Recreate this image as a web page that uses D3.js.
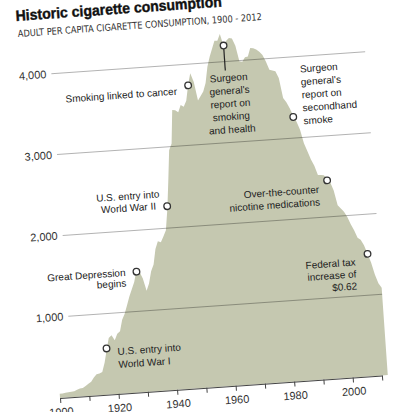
<!DOCTYPE html>
<html>
<head>
<meta charset="utf-8">
<script src="https://cdn.jsdelivr.net/npm/d3@7"></script>
<style>
  body { margin: 0; background: #fff; }
  svg { display: block; font-family: "Liberation Sans", Arial, sans-serif; }
</style>
</head>
<body>
<div id="chart"></div>
<script>
// adult per capita cigarette consumption, one value per year from 1900
var startYear = 1900;
var consumption = [
    54, 53, 60, 64, 66, 70, 86, 99, 105, 125,
    151, 173, 223, 260, 267, 285, 395, 551, 697, 727,
    665, 742, 770, 911, 982, 1085, 1191, 1279, 1366, 1504,
    1485, 1399, 1245, 1334, 1483, 1564, 1754, 1847, 1830, 1900,
    1976, 2236, 2585, 2956, 3039, 3449, 3446, 3416, 3505, 3480,
    3552, 3744, 3886, 3778, 3546, 3597, 3650, 3755, 3953, 4073,
    4171, 4266, 4265, 4345, 4194, 4258, 4287, 4280, 4186, 3993,
    3985, 4037, 4043, 4148, 4141, 4123, 4092, 4051, 3967, 3861,
    3851, 3840, 3753, 3502, 3446, 3370, 3274, 3197, 3096, 2926,
    2826, 2720, 2640, 2524, 2521, 2515, 2476, 2425, 2320, 2136,
    2092, 2048, 1982, 1890, 1814, 1716, 1691, 1619, 1512, 1400,
    1250, 1140, 1080
];

var gridValues = [1000, 2000, 3000, 4000];
var decadeTicks = [1900, 1910, 1920, 1930, 1940, 1950, 1960, 1970, 1980, 1990, 2000, 2010];

var eventYears = [1917, 1929, 1941, 1951, 1964, 1986, 1996, 2008];
var eventValues = [570, 1490, 2270, 3740, 4200, 3260, 2450, 1510];
var eventLabels = [
    ['U.S. entry into', 'World War I'],
    ['Great Depression', 'begins'],
    ['U.S. entry into', 'World War II'],
    ['Smoking linked to cancer'],
    ['Surgeon', "general's", 'report on', 'smoking', 'and health'],
    ['Surgeon', "general's", 'report on', 'secondhand', 'smoke'],
    ['Over-the-counter', 'nicotine medications'],
    ['Federal tax', 'increase of', '$0.62']
];

// where each note sits next to its marker
var labelLayout = [
    {anchor: 'start',  dx: 10.8,  dy: 3.8,   lh: 13},
    {anchor: 'end',    dx: -11,   dy: 0,     lh: 10.5},
    {anchor: 'middle', dx: -38.6, dy: -12.8, lh: 11.8},
    {anchor: 'end',    dx: -11.5, dy: 5,     lh: 12},
    {anchor: 'middle', dx: 2.8,   dy: 32.3,  lh: 13, stem: 25},
    {anchor: 'start',  dx: 10,    dy: -47.5, lh: 13},
    {anchor: 'end',    dx: -8.6,  dy: 8.4,   lh: 12.5},
    {anchor: 'end',    dx: -12.6, dy: 7.2,   lh: 12}
];

var width = 415, height = 412;

var svg = d3.select('#chart').append('svg')
    .attr('width', width).attr('height', height);

// the whole graphic is slightly tilted
var g = svg.append('g').attr('transform', 'translate(60,398) rotate(-4)');

var x = d3.scaleLinear().domain([1900, 2010]).range([0, 322.7]);
var y = d3.scaleLinear().domain([0, 4000]).range([0, -324]);

var series = consumption.map(function(v, i){ return {year: startYear + i, value: v}; });

g.append('path').datum(series)
    .attr('fill', '#c5c8b0')
    .attr('d', d3.area()
        .x(function(d){ return x(d.year); })
        .y0(y(0))
        .y1(function(d){ return y(d.value); }));

// gridlines over the area
var gridStart = 14, gridEnd = x(2012);
g.selectAll('line.grid').data(gridValues).enter().append('line')
    .attr('class', 'grid')
    .attr('x1', gridStart).attr('x2', gridEnd)
    .attr('y1', function(d){ return y(d); })
    .attr('y2', function(d){ return y(d); })
    .attr('stroke', 'rgba(0,0,0,0.3)')
    .attr('stroke-width', 1);

g.selectAll('text.ylab').data(gridValues).enter().append('text')
    .attr('class', 'ylab')
    .attr('x', 9)
    .attr('y', function(d){ return y(d); })
    .attr('dy', '0.35em')
    .attr('text-anchor', 'end')
    .attr('font-size', 11)
    .attr('fill', '#333')
    .text(d3.format(','));

var axis = g.append('g').call(d3.axisBottom(x)
    .tickValues(decadeTicks)
    .tickSize(5)
    .tickSizeOuter(0)
    .tickPadding(5)
    .tickFormat(function(d){ return d % 20 ? '' : d; }));
axis.select('.domain').attr('stroke', '#444');
axis.selectAll('.tick line').attr('stroke', '#444');
axis.selectAll('.tick text')
    .attr('font-size', 11)
    .attr('font-family', '"Liberation Sans", Arial, sans-serif')
    .attr('fill', '#333');

// notes
eventYears.forEach(function(yr, i){
    var cx = x(yr), cy = y(eventValues[i]), lay = labelLayout[i];
    if(lay.stem){
        g.append('line')
            .attr('x1', cx).attr('x2', cx)
            .attr('y1', cy).attr('y2', cy + lay.stem)
            .attr('stroke', '#222').attr('stroke-width', 1.2);
    }
    var t = g.append('text')
        .attr('text-anchor', lay.anchor)
        .attr('font-size', 10)
        .attr('fill', '#222');
    eventLabels[i].forEach(function(line, j){
        t.append('tspan')
            .attr('x', cx + lay.dx)
            .attr('y', cy + lay.dy + j * lay.lh)
            .attr('dy', '0.35em')
            .text(line);
    });
    g.append('circle')
        .attr('cx', cx).attr('cy', cy).attr('r', 3.3)
        .attr('fill', '#fff')
        .attr('stroke', '#333').attr('stroke-width', 1.3);
});

g.append('text')
    .attr('x', -17.6).attr('y', -379.2)
    .attr('font-size', 15).attr('font-weight', 'bold')
    .attr('fill', '#111').attr('stroke', '#111').attr('stroke-width', 0.4)
    .attr('textLength', 206.5).attr('lengthAdjust', 'spacingAndGlyphs')
    .text('Historic cigarette consumption');

g.append('text')
    .attr('x', -16.7).attr('y', -363)
    .attr('font-size', 9.5)
    .attr('font-family', '"Liberation Sans Narrow", "DejaVu Sans Condensed", sans-serif')
    .attr('fill', '#333')
    .attr('textLength', 244.5).attr('lengthAdjust', 'spacingAndGlyphs')
    .text('ADULT PER CAPITA CIGARETTE CONSUMPTION, 1900 - 2012');
</script>
</body>
</html>
